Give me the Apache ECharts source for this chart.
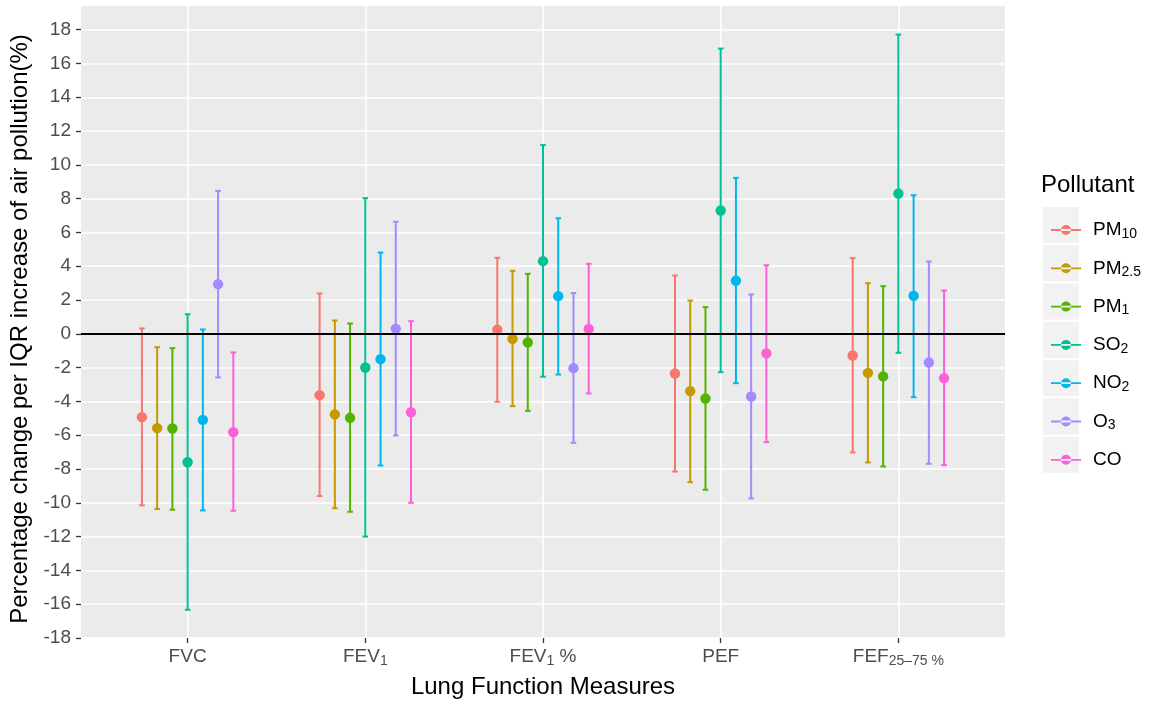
<!DOCTYPE html>
<html>
<head>
<meta charset="utf-8">
<title>Lung function vs air pollution</title>
<script src="https://cdn.jsdelivr.net/npm/echarts@6/dist/echarts.min.js"></script>
<style>
  html, body { margin: 0; padding: 0; background: #fff; }
  #chart { width: 1153px; height: 708px; }
</style>
</head>
<body>
<div id="chart"></div>
<script>
// lung function measures (x axis), rich text for subscripts
const categories = ['FVC', 'FEV{sub|1}', 'FEV{sub|1} %', 'PEF', 'FEF{sub|25\u201375 %}']
const pollutants = ['PM10', 'PM2.5', 'PM1', 'SO2', 'NO2', 'O3', 'CO']
const pollutantLabels = ['PM{sub|10}', 'PM{sub|2.5}', 'PM{sub|1}', 'SO{sub|2}', 'NO{sub|2}', 'O{sub|3}', 'CO']
const colors = ['#F8766D', '#C49A00', '#53B400', '#00C094', '#00B6EB', '#A58AFF', '#FB61D7']
const yTicks = [-18, -16, -14, -12, -10, -8, -6, -4, -2, 0, 2, 4, 6, 8, 10, 12, 14, 16, 18]

// [estimate, lower, upper] per measure: FVC, FEV1, FEV1 %, PEF, FEF25-75 %
const pm10 = [[-4.93, -10.15, 0.32], [-3.63, -9.60, 2.39], [0.24, -4.02, 4.50], [-2.35, -8.15, 3.45], [-1.28, -7.02, 4.48]]
const pm25 = [[-5.58, -10.37, -0.79], [-4.77, -10.32, 0.79], [-0.30, -4.28, 3.73], [-3.39, -8.78, 1.97], [-2.31, -7.61, 3.00]]
const pm1 = [[-5.60, -10.41, -0.85], [-4.97, -10.53, 0.61], [-0.51, -4.56, 3.55], [-3.83, -9.23, 1.58], [-2.52, -7.85, 2.82]]
const so2 = [[-7.60, -16.33, 1.16], [-1.99, -12.00, 8.03], [4.30, -2.54, 11.17], [7.30, -2.27, 16.88], [8.30, -1.12, 17.71]]
const no2 = [[-5.09, -10.45, 0.26], [-1.50, -7.79, 4.81], [2.23, -2.41, 6.84], [3.14, -2.92, 9.23], [2.25, -3.75, 8.20]]
const o3 = [[2.94, -2.58, 8.46], [0.31, -6.01, 6.63], [-2.03, -6.45, 2.41], [-3.71, -9.74, 2.33], [-1.70, -7.69, 4.28]]
const co = [[-5.82, -10.47, -1.10], [-4.64, -10.00, 0.75], [0.29, -3.53, 4.14], [-1.16, -6.41, 4.06], [-2.62, -7.77, 2.56]]

const allData = [pm10, pm25, pm1, so2, no2, o3, co]
const dodgeWidth = 0.6

const font = '"Liberation Sans", Arial, sans-serif'
const chart = echarts.init(document.getElementById('chart'), null, { renderer: 'canvas' })

const series = allData.map((rows, i) => {
  const offset = (i - (pollutants.length - 1) / 2) * dodgeWidth / pollutants.length
  return {
    name: pollutants[i],
    type: 'custom',
    itemStyle: { color: colors[i] },
    encode: { x: 0, y: [1, 2, 3] },
    data: rows.map((r, j) => [j, r[0], r[1], r[2]]),
    renderItem: function(params, api) {
      const x = api.value(0) + offset
      const pEst = api.coord([x, api.value(1)])
      const pLo = api.coord([x, api.value(2)])
      const pHi = api.coord([x, api.value(3)])
      const color = api.visual('color')
      const cap = 2.8
      const lineStyle = { stroke: color, lineWidth: 2 }
      return {
        type: 'group',
        children: [
          { type: 'line', shape: { x1: pLo[0], y1: pLo[1], x2: pHi[0], y2: pHi[1] }, style: lineStyle },
          { type: 'line', shape: { x1: pHi[0] - cap, y1: pHi[1], x2: pHi[0] + cap, y2: pHi[1] }, style: lineStyle },
          { type: 'line', shape: { x1: pLo[0] - cap, y1: pLo[1], x2: pLo[0] + cap, y2: pLo[1] }, style: lineStyle },
          { type: 'circle', shape: { cx: pEst[0], cy: pEst[1], r: 5.2 }, style: { fill: color } }
        ]
      }
    },
    markLine: i === 0 ? {
      silent: true,
      symbol: 'none',
      label: { show: false },
      lineStyle: { color: '#000', width: 1.8, type: 'solid' },
      data: [{ yAxis: 0 }]
    } : undefined,
    z: 3
  }
})

// grey key backgrounds behind legend entries
const legendTop = 214
const legendStep = 38.3
const keyBoxes = pollutants.map((p, i) => ({
  type: 'rect',
  left: 1043,
  top: legendTop + 11 - 18 + i * legendStep,
  shape: { width: 36, height: 36 },
  style: { fill: '#F2F2F2' },
  z: 0
}))

chart.setOption({
  backgroundColor: '#fff',
  animation: false,
  textStyle: { fontFamily: font },
  title: {
    text: 'Pollutant',
    left: 1036,
    top: 168,
    textStyle: { fontSize: 24, fontWeight: 'normal', color: '#000', fontFamily: font }
  },
  legend: {
    orient: 'vertical',
    left: 1046,
    top: legendTop,
    itemWidth: 30,
    itemHeight: 10,
    itemGap: legendStep - 22,
    icon: 'path://M0,4.1H30V5.9H0Z M10,5A5,5,0,1,0,20,5A5,5,0,1,0,10,5Z',
    formatter: function(name) {
      return pollutantLabels[pollutants.indexOf(name)]
    },
    textStyle: {
      fontSize: 19,
      lineHeight: 22,
      color: '#000',
      padding: [0, 0, 0, 7],
      fontFamily: font,
      rich: {
        sub: { fontSize: 14, lineHeight: 14, verticalAlign: 'bottom', color: '#000', fontFamily: font }
      }
    },
    data: pollutants
  },
  graphic: keyBoxes,
  grid: {
    left: 81,
    top: 6,
    width: 924,
    height: 632,
    show: true,
    backgroundColor: '#EBEBEB',
    borderWidth: 0
  },
  xAxis: {
    type: 'value',
    min: -0.6,
    max: 4.6,
    name: 'Lung Function Measures',
    nameLocation: 'middle',
    nameGap: 37,
    nameTextStyle: { fontSize: 24, color: '#000', fontFamily: font },
    axisLine: { show: false, onZero: false },
    axisTick: { show: true, length: 5, lineStyle: { color: '#333', width: 1.3 }, customValues: [0, 1, 2, 3, 4] },
    axisLabel: {
      customValues: [0, 1, 2, 3, 4],
      margin: 8,
      fontSize: 19,
      lineHeight: 22,
      color: '#4D4D4D',
      formatter: function(v) { return categories[Math.round(v)] },
      rich: {
        sub: { fontSize: 14, lineHeight: 14, verticalAlign: 'bottom', color: '#4D4D4D', fontFamily: font }
      }
    },
    splitLine: { show: true, lineStyle: { color: '#fff', width: 1.6 } }
  },
  yAxis: {
    type: 'value',
    min: -18,
    max: 19.4,
    name: 'Percentage change per IQR increase of air pollution(%)',
    nameLocation: 'middle',
    nameGap: 49,
    nameTextStyle: { fontSize: 24, color: '#000', fontFamily: font, padding: [0, 14, 0, 0] },
    axisLine: { show: false, onZero: false },
    axisTick: { show: true, length: 5, lineStyle: { color: '#333', width: 1.3 }, customValues: yTicks },
    axisLabel: { customValues: yTicks, margin: 10, fontSize: 19, color: '#4D4D4D' },
    splitLine: { show: true, lineStyle: { color: '#fff', width: 1.6 } }
  },
  series: series
})
</script>
</body>
</html>
